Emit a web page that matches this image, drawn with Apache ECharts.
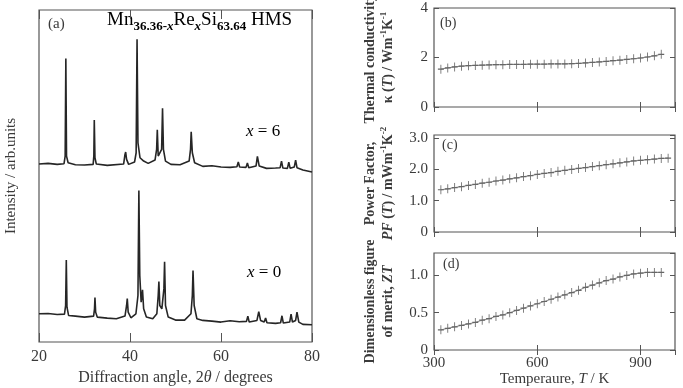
<!DOCTYPE html>
<html>
<head>
<meta charset="utf-8">
<script src="https://cdn.jsdelivr.net/npm/echarts@6/dist/echarts.min.js"></script>
<style>
  html, body { margin: 0; padding: 0; background: #fff; }
  #chart { width: 683px; height: 388px; }
</style>
</head>
<body>
<div id="chart"></div>
<script>
// XRD patterns, [2theta, intensity (arb.)]
const xrdX6 = [
  [20, 53.6], [22, 53.8], [24, 53.5], [25.5, 53.7], [25.75, 56], [25.9, 85.4], [26.05, 56], [26.4, 54],
  [28, 53.4], [30, 53.3], [31.9, 53.5], [32.05, 56], [32.15, 66.9], [32.3, 55.5], [32.6, 53.6],
  [35, 53.2], [38.6, 53.6], [38.9, 56.5], [39.05, 57.2], [39.25, 55], [39.7, 53.5],
  [41, 54.2], [41.35, 57], [41.55, 91.2], [41.75, 60], [42.2, 55.5], [43, 54.5], [44, 53.8],
  [45.5, 54.8], [45.85, 58], [46.0, 63.9], [46.2, 56], [46.5, 55.5], [46.95, 58], [47.15, 70.4], [47.35, 58], [47.8, 54.5],
  [49, 53.5], [51, 53.4], [53.0, 54.5], [53.3, 58], [53.45, 63.3], [53.7, 57], [54.2, 54],
  [56, 52.9], [58, 53.1], [60, 52.7], [62, 52.6], [63.5, 52.8], [63.8, 54.2], [64.1, 52.7],
  [65.5, 52.6], [65.8, 53.9], [66.1, 52.5], [67.7, 53.0], [68.0, 55.9], [68.4, 53.0],
  [70, 52.3], [72, 52.4], [73.0, 52.5], [73.3, 54.5], [73.6, 52.4], [74.6, 52.3], [74.9, 54.2], [75.2, 52.3],
  [76.1, 52.7], [76.4, 54.8], [76.7, 52.5], [78, 51.8], [80, 51.2]
];
const xrdX0 = [
  [20, 8.5], [22, 8.6], [24, 8.3], [25.6, 8.4], [25.85, 11], [26.0, 24.7], [26.15, 10.5], [26.5, 8],
  [28, 7.8], [30, 7.5], [32.0, 7.8], [32.2, 10], [32.3, 13.4], [32.45, 9], [32.8, 7.5],
  [35, 7.2], [37, 7.0], [38.9, 7.8], [39.25, 11], [39.4, 13.1], [39.6, 9], [40.2, 7.3],
  [41.3, 8.5], [41.75, 14], [41.95, 45.6], [42.15, 20], [42.45, 12], [42.75, 15.7], [43.0, 10], [43.6, 7.5],
  [45, 7.0], [45.9, 8.5], [46.2, 14], [46.35, 18.2], [46.55, 11], [47.0, 10], [47.45, 16], [47.6, 24.2], [47.8, 11], [48.4, 7.5],
  [50, 6.6], [52, 6.6], [53.4, 8.5], [53.7, 14], [53.85, 21.5], [54.1, 11], [54.7, 7],
  [56, 6.5], [58, 6.3], [60, 6.0], [62, 6.4], [64, 6.1], [65.6, 6.2], [65.9, 7.8], [66.2, 6],
  [67.9, 6.5], [68.3, 9.1], [68.7, 6.5], [69.5, 6.0], [69.8, 7.2], [70.1, 5.8], [72, 5.6],
  [73.1, 5.8], [73.4, 7.9], [73.7, 5.7], [75.1, 6.0], [75.4, 8.4], [75.7, 6], [76.4, 6.5], [76.7, 9], [77.1, 6],
  [78, 5.3], [80, 5.2]
];

// temperature dependent properties
const tempsB = [320, 340, 360, 380, 400, 420, 440, 460, 480, 500, 520, 540, 560, 580, 600, 620, 640,
  660, 680, 700, 720, 740, 760, 780, 800, 820, 840, 860, 880, 900, 920, 940, 960];
const kappa = [1.53, 1.58, 1.62, 1.65, 1.67, 1.68, 1.69, 1.70, 1.71, 1.71, 1.72, 1.72, 1.72, 1.73, 1.73, 1.73, 1.74,
  1.74, 1.74, 1.75, 1.76, 1.78, 1.80, 1.82, 1.84, 1.87, 1.89, 1.92, 1.95, 1.98, 2.02, 2.07, 2.13];
const tempsC = [320, 340, 360, 380, 400, 420, 440, 460, 480, 500, 520, 540, 560, 580, 600, 620, 640,
  660, 680, 700, 720, 740, 760, 780, 800, 820, 840, 860, 880, 900, 920, 940, 960, 980];
const powerFactor = [1.35, 1.38, 1.42, 1.45, 1.49, 1.52, 1.56, 1.59, 1.63, 1.66, 1.70, 1.73, 1.77, 1.80, 1.84, 1.87, 1.90,
  1.94, 1.97, 2.00, 2.03, 2.06, 2.09, 2.12, 2.15, 2.18, 2.21, 2.24, 2.27, 2.29, 2.31, 2.33, 2.35, 2.36];
const tempsD = tempsB;
const zt = [0.27, 0.29, 0.31, 0.33, 0.35, 0.37, 0.40, 0.42, 0.45, 0.47, 0.50, 0.53, 0.56, 0.59, 0.62, 0.65, 0.68,
  0.71, 0.74, 0.77, 0.80, 0.84, 0.87, 0.90, 0.93, 0.95, 0.98, 1.00, 1.02, 1.03, 1.04, 1.04, 1.04];

const serif = "Liberation Serif";
const frame = "#555";
const txt = "#3a3a3a";
const plus = "path://M5,0L5,10M0,5L10,5";

const pairs = (xs, ys) => xs.map((x, i) => [x, ys[i]]);

// helper: x axis (bottom or mirrored top)
function tAxis(grid, top, showLabel) {
  return {
    type: "value", gridIndex: grid, position: top ? "top" : "bottom",
    min: 300, max: 1000, interval: 300,
    axisLine: { show: false }, splitLine: { show: false },
    axisTick: { inside: true, length: 5, lineStyle: { color: frame } },
    axisLabel: { show: !!showLabel, showMaxLabel: false, color: txt, fontFamily: serif, fontSize: 15, margin: 6 },
  };
}
function pAxis(grid, right, max, interval, fmt) {
  return {
    type: "value", gridIndex: grid, position: right ? "right" : "left",
    min: 0, max, interval,
    axisLine: { show: false }, splitLine: { show: false },
    axisTick: { inside: true, length: 5, lineStyle: { color: frame } },
    axisLabel: { show: !right, showMaxLabel: max % interval === 0, color: txt, fontFamily: serif, fontSize: 15, margin: 6, formatter: fmt },
  };
}
const nameRich = {
  a: { fontFamily: serif, fontSize: 14, fontWeight: "bold", color: txt, lineHeight: 18 },
  i: { fontFamily: serif, fontSize: 14, fontWeight: "bold", fontStyle: "italic", color: txt, lineHeight: 18 },
  sup: { fontFamily: serif, fontSize: 9, fontWeight: "bold", color: txt, lineHeight: 11, verticalAlign: "top" },
};
const box = { show: true, borderColor: frame, borderWidth: 1.2, outerBoundsMode: "none" };

const chart = echarts.init(document.getElementById("chart"));
chart.setOption({
  animation: false,
  backgroundColor: "#fff",
  grid: [
    Object.assign({ left: 39, top: 10, width: 273, height: 332 }, box),
    Object.assign({ left: 434, top: 8, width: 241, height: 99 }, box),
    Object.assign({ left: 434, top: 135, width: 241, height: 97 }, box),
    Object.assign({ left: 434, top: 253, width: 241, height: 97 }, box),
  ],
  xAxis: [
    {
      type: "value", gridIndex: 0, min: 20, max: 80, interval: 20,
      axisLine: { show: false }, splitLine: { show: false },
      axisTick: { inside: true, length: 9, lineStyle: { color: frame } },
      axisLabel: { color: txt, fontFamily: serif, fontSize: 16, margin: 7 },
      name: "{a|Diffraction angle, 2}{i|θ}{a| / degrees}", nameLocation: "middle", nameGap: 28,
      nameTextStyle: { rich: {
        a: { fontFamily: serif, fontSize: 16, color: txt },
        i: { fontFamily: serif, fontSize: 16, fontStyle: "italic", color: txt },
      } },
    },
    {
      type: "value", gridIndex: 0, position: "top", min: 20, max: 80, interval: 20,
      axisLine: { show: false }, splitLine: { show: false },
      axisTick: { inside: true, length: 9, lineStyle: { color: frame } },
      axisLabel: { show: false },
    },
    tAxis(1, false, false), tAxis(1, true, false),
    tAxis(2, false, false), tAxis(2, true, false),
    Object.assign(tAxis(3, false, true), {
      name: "{a|Temperaure, }{i|T}{a| / K}", nameLocation: "middle", nameGap: 22,
      nameTextStyle: { rich: {
        a: { fontFamily: serif, fontSize: 15, color: txt },
        i: { fontFamily: serif, fontSize: 15, fontStyle: "italic", color: txt },
      } },
    }),
    tAxis(3, true, false),
  ],
  yAxis: [
    {
      type: "value", gridIndex: 0, min: 0, max: 100,
      axisLine: { show: false }, axisTick: { show: false }, axisLabel: { show: false }, splitLine: { show: false },
      name: "Intensity / arb.units", nameLocation: "middle", nameGap: 20, nameRotate: 90,
      nameTextStyle: { fontFamily: serif, fontSize: 15, color: txt },
    },
    Object.assign(pAxis(1, false, 4, 2, (v) => String(v)), {
      name: "{a|Thermal conductivity,}\n{a|κ (}{i|T}{a|) / Wm}{sup|-1}{a|K}{sup|-1}",
      nameLocation: "middle", nameRotate: 90, nameGap: 37, nameTextStyle: { rich: nameRich },
    }),
    pAxis(1, true, 4, 2),
    Object.assign(pAxis(2, false, 3.1, 1, (v) => (v === 0 ? "0" : v.toFixed(1))), {
      name: "{a|Power Factor,}\n{i|PF}{a| (}{i|T}{a|) / mWm}{sup|-1}{a|K}{sup|-2}",
      nameLocation: "middle", nameRotate: 90, nameGap: 37, nameTextStyle: { rich: nameRich },
    }),
    pAxis(2, true, 3.1, 1),
    Object.assign(pAxis(3, false, 1.3, 0.5, (v) => (v === 0 ? "0" : v.toFixed(1))), {
      name: "{a|Dimensionless figure}\n{a|of merit, }{i|ZT}",
      nameLocation: "middle", nameRotate: 90, nameGap: 37, nameTextStyle: { rich: nameRich },
    }),
    pAxis(3, true, 1.3, 0.5),
  ],
  series: [
    { name: "x = 6", type: "line", xAxisIndex: 0, yAxisIndex: 0, data: xrdX6, showSymbol: false,
      lineStyle: { color: "#262626", width: 1.6 } },
    { name: "x = 0", type: "line", xAxisIndex: 0, yAxisIndex: 0, data: xrdX0, showSymbol: false,
      lineStyle: { color: "#262626", width: 1.6 } },
    { name: "kappa", type: "line", xAxisIndex: 2, yAxisIndex: 1, data: pairs(tempsB, kappa),
      symbol: plus, symbolSize: [6, 9], itemStyle: { color: "none", borderColor: "#666", borderWidth: 1 },
      lineStyle: { color: "#777", width: 0.9 } },
    { name: "PF", type: "line", xAxisIndex: 4, yAxisIndex: 3, data: pairs(tempsC, powerFactor),
      symbol: plus, symbolSize: [6, 9], itemStyle: { color: "none", borderColor: "#666", borderWidth: 1 },
      lineStyle: { color: "#777", width: 0.9 } },
    { name: "ZT", type: "line", xAxisIndex: 6, yAxisIndex: 5, data: pairs(tempsD, zt),
      symbol: plus, symbolSize: [6, 9], itemStyle: { color: "none", borderColor: "#666", borderWidth: 1 },
      lineStyle: { color: "#777", width: 0.9 } },
  ],
  graphic: [
    { type: "text", left: 48, top: 17, style: { text: "(a)", font: "15px " + serif, fill: txt } },
    { type: "text", left: 440, top: 16, style: { text: "(b)", font: "14px " + serif, fill: txt } },
    { type: "text", left: 442, top: 138, style: { text: "(c)", font: "14px " + serif, fill: txt } },
    { type: "text", left: 443, top: 257, style: { text: "(d)", font: "14px " + serif, fill: txt } },
    {
      type: "text", left: 107, top: 11,
      style: {
        text: "{m|Mn}{s|36.36-}{si|x}{m|Re}{si|x}{m|Si}{s|63.64}{m| HMS}",
        rich: {
          m: { fontFamily: serif, fontSize: 19, color: txt, lineHeight: 22, verticalAlign: "top" },
          s: { fontFamily: serif, fontSize: 13, fontWeight: "bold", color: txt, lineHeight: 13, verticalAlign: "bottom" },
          si: { fontFamily: serif, fontSize: 13, fontWeight: "bold", fontStyle: "italic", color: txt, lineHeight: 13, verticalAlign: "bottom" },
        },
      },
    },
    {
      type: "text", left: 246, top: 123,
      style: { text: "{i|x}{m| = 6}", rich: {
        i: { fontFamily: serif, fontSize: 17, fontStyle: "italic", color: txt },
        m: { fontFamily: serif, fontSize: 17, color: txt },
      } },
    },
    {
      type: "text", left: 247, top: 264,
      style: { text: "{i|x}{m| = 0}", rich: {
        i: { fontFamily: serif, fontSize: 17, fontStyle: "italic", color: txt },
        m: { fontFamily: serif, fontSize: 17, color: txt },
      } },
    },
  ],
});
</script>
</body>
</html>
